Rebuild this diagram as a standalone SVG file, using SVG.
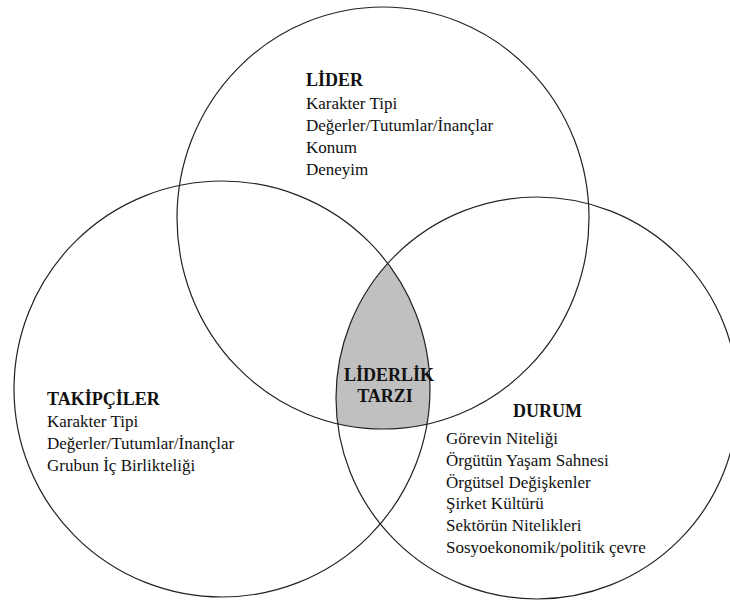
<svg xmlns="http://www.w3.org/2000/svg" width="730" height="601" viewBox="0 0 730 601">
<style>
.c{fill:none;stroke:#222;stroke-width:1.2}
text{font-family:"Liberation Serif","Times New Roman",serif;font-size:17px;fill:#111}
.b{font-weight:bold;font-size:18px}
</style>
<defs>
<clipPath id="clipL"><circle cx="222" cy="389" r="208"/></clipPath>
<clipPath id="clipR"><circle cx="537" cy="398" r="201"/></clipPath>
</defs>
<rect width="730" height="601" fill="#fff"/>
<g id="liderlik-tarzi-fill">
<g clip-path="url(#clipL)"><g clip-path="url(#clipR)"><ellipse cx="383" cy="218" rx="206" ry="211" fill="#c0c0c0"/></g></g>
</g>
<g id="lider">
<ellipse class="c" cx="383" cy="218" rx="206" ry="211"/>
<text class="b" x="306" y="86">LİDER</text>
<text x="306" y="109">Karakter Tipi</text>
<text x="306" y="131">Değerler/Tutumlar/İnançlar</text>
<text x="306" y="153">Konum</text>
<text x="306" y="175">Deneyim</text>
</g>
<g id="takipciler">
<circle class="c" cx="222" cy="389" r="208"/>
<text class="b" x="47" y="405">TAKİPÇİLER</text>
<text x="47" y="427">Karakter Tipi</text>
<text x="47" y="449">Değerler/Tutumlar/İnançlar</text>
<text x="47" y="471">Grubun İç Birlikteliği</text>
</g>
<g id="durum">
<circle class="c" cx="537" cy="398" r="201"/>
<text class="b" x="513" y="417">DURUM</text>
<text x="446" y="444">Görevin Niteliği</text>
<text x="446" y="466">Örgütün Yaşam Sahnesi</text>
<text x="446" y="488">Örgütsel Değişkenler</text>
<text x="446" y="509">Şirket Kültürü</text>
<text x="446" y="531">Sektörün Nitelikleri</text>
<text x="446" y="553">Sosyoekonomik/politik çevre</text>
</g>
<g id="liderlik-tarzi">
<text class="b" x="389" y="381" text-anchor="middle">LİDERLİK</text>
<text class="b" x="385" y="402" text-anchor="middle">TARZI</text>
</g>
</svg>
